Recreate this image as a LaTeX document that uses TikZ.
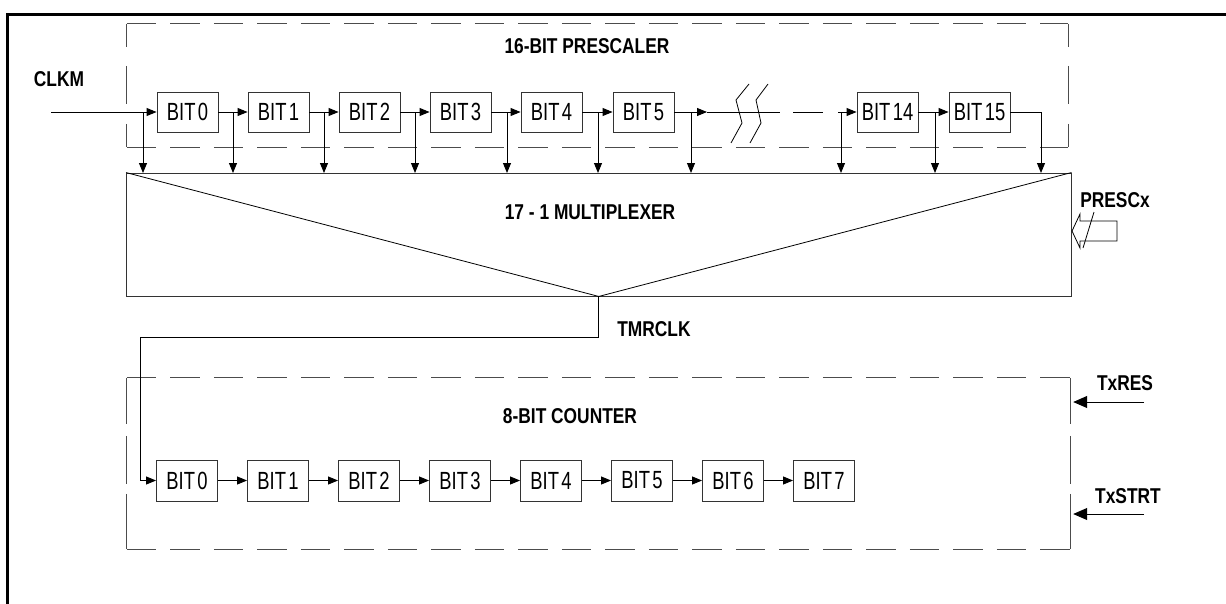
\documentclass[tikz,border=0pt]{standalone}
\usepackage{fontspec}
\usepackage{graphicx}
\setmainfont{Liberation Sans}
\usetikzlibrary{arrows.meta,calc}
\newcommand\lb[1]{\scalebox{0.89}[1.1]{\fontsize{19.5}{20}\selectfont\bfseries #1}}
\newcommand\bt[1]{\scalebox{0.8}[1.08]{\fontsize{23}{24}\selectfont #1}}
\tikzset{
  bitbox/.style={draw=black!80, line width=0.9pt, minimum width=61pt, minimum height=40pt, inner sep=0pt},
  lbl/.style={inner sep=0pt},
  area/.style={minimum width=#1, inner sep=0pt},
  dline/.style={draw=black!70, line width=1pt, dash pattern=on 29.5pt off 14pt},
  dsideA/.style={draw=black!70, line width=1pt, dash pattern=on 23pt off 19pt on 38pt off 20pt on 23pt off 50pt},
  dsideB/.style={draw=black!70, line width=1pt, dash pattern=on 46pt off 12pt on 48pt off 10pt on 55pt off 50pt},
  conn/.style={draw=black, line width=0.9pt},
  arr/.style={conn, -{Triangle[length=10pt,width=8pt]}},
  bigarr/.style={conn, -{Triangle[length=14pt,width=12pt]}},
  thin/.style={draw=black, line width=0.8pt},
}
\begin{document}
\begin{tikzpicture}[x=1pt,y=-1pt]
\useasboundingbox (0,0) rectangle (1226,603);
% outer frame
\draw[line width=2.5pt] (7.5,620) -- (7.5,14.5) -- (1240,14.5);
% prescaler dashed box
\node[area=941pt, minimum height=123pt] (pre) at (597.5,85.5) {};
\draw[dline] (pre.north west) -- (pre.north east);
\draw[dline] (pre.south west) -- (pre.south east);
\draw[dsideA] (pre.north west) -- (pre.south west);
\draw[dsideA] (pre.north east) -- (pre.south east);
\node[lbl] (tpre) at (587,46) {\lb{16-BIT PRESCALER}};
\node[lbl] (tclk) at (59,79) {\lb{CLKM}};
% prescaler bits
\node[bitbox] (p0) at (187.5,112) {\bt{BIT\kern3pt 0}};
\node[bitbox] (p1) at (278.5,112) {\bt{BIT\kern3pt 1}};
\node[bitbox] (p2) at (369.5,112) {\bt{BIT\kern3pt 2}};
\node[bitbox] (p3) at (460.5,112) {\bt{BIT\kern3pt 3}};
\node[bitbox] (p4) at (551.5,112) {\bt{BIT\kern3pt 4}};
\node[bitbox] (p5) at (643.5,112) {\bt{BIT\kern3pt 5}};
\node[bitbox] (p14) at (887.5,112) {\bt{BIT\kern3pt 14}};
\node[bitbox] (p15) at (979.5,112) {\bt{BIT\kern3pt 15}};
% multiplexer
\node[draw=black!80, line width=0.9pt, minimum width=944.5pt, minimum height=123pt, inner sep=0pt] (mux) at (598.75,234.5) {};
\draw[thin] (mux.north west) -- (mux.south) -- (mux.north east);
\node[lbl] (tmux) at (590,212) {\lb{17 - 1 MULTIPLEXER}};
% clock input and chain
\coordinate (clkin) at (51,112);
\draw[arr] (clkin) -- (p0.west);
\draw[arr] (p0.east) -- (p1.west);
\draw[arr] (p1.east) -- (p2.west);
\draw[arr] (p2.east) -- (p3.west);
\draw[arr] (p3.east) -- (p4.west);
\draw[arr] (p4.east) -- (p5.west);
\coordinate (a5) at (707,112);
\coordinate (s5) at (780,112);
\coordinate (d1) at (793,112);
\coordinate (d2) at (823,112);
\coordinate (d3) at (838,112);
\draw[arr] (p5.east) -- (a5);
\draw[conn] (a5) -- (s5);
\draw[conn] (d1) -- (d2);
\draw[arr] (d3) -- (p14.west);
\draw[arr] (p14.east) -- (p15.west);
\coordinate (o15) at (1041,112);
\draw[conn] (p15.east) -- (o15);
% break symbol
\draw[thin] (749,84) -- (736,100) -- (742,123) -- (731,143);
\draw[thin] (768,84) -- (756,100) -- (761,123) -- (750,143);
% taps to multiplexer
\foreach \x in {143,233,324,415,507,598,691,841,935,1041}{
  \draw[arr] (\x,112) -- (\x,173);
}
% PRESCx
\node[lbl] (tpsc) at (1115,200) {\lb{PRESCx}};
\draw[thin] (1072,231) -- (1080,214) -- (1080,221) -- (1117,221) -- (1117,241) -- (1080,241) -- (1080,248) -- cycle;
\draw[thin] (1094,212) -- (1083,248);
% TMRCLK
\node[lbl] (ttmr) at (654,329) {\lb{TMRCLK}};
% counter box
\node[area=943pt, minimum height=171pt] (cnt) at (598.5,463.5) {};
\draw[dline] (cnt.north west) -- (cnt.north east);
\draw[dline] (cnt.south west) -- (cnt.south east);
\draw[dsideB] (cnt.north west) -- (cnt.south west);
\draw[dsideB] (cnt.north east) -- (cnt.south east);
\node[lbl] (tcnt) at (570,416) {\lb{8-BIT COUNTER}};
\foreach \i in {0,...,7}{
  \node[bitbox, minimum height=41pt] (c\i) at ({187+91*\i},480.5) {\bt{BIT\kern3pt \i}};
}
\foreach \i [count=\j] in {0,...,6}{
  \draw[arr] (c\i.east) -- (c\j.west);
}
\coordinate (rt) at (140.7,337);
\draw[arr] (mux.south) |- (rt) |- (c0.west);
% TxRES / TxSTRT
\node[lbl] (tres) at (1125,383) {\lb{TxRES}};
\node[lbl] (tstr) at (1128,496) {\lb{TxSTRT}};
\coordinate (rs) at (1144,402);
\coordinate (ss) at (1144,514);
\draw[bigarr] (rs) -- ($(rs -| cnt.east)+(3,0)$);
\draw[bigarr] (ss) -- ($(ss -| cnt.east)+(3,0)$);
\end{tikzpicture}
\end{document}
